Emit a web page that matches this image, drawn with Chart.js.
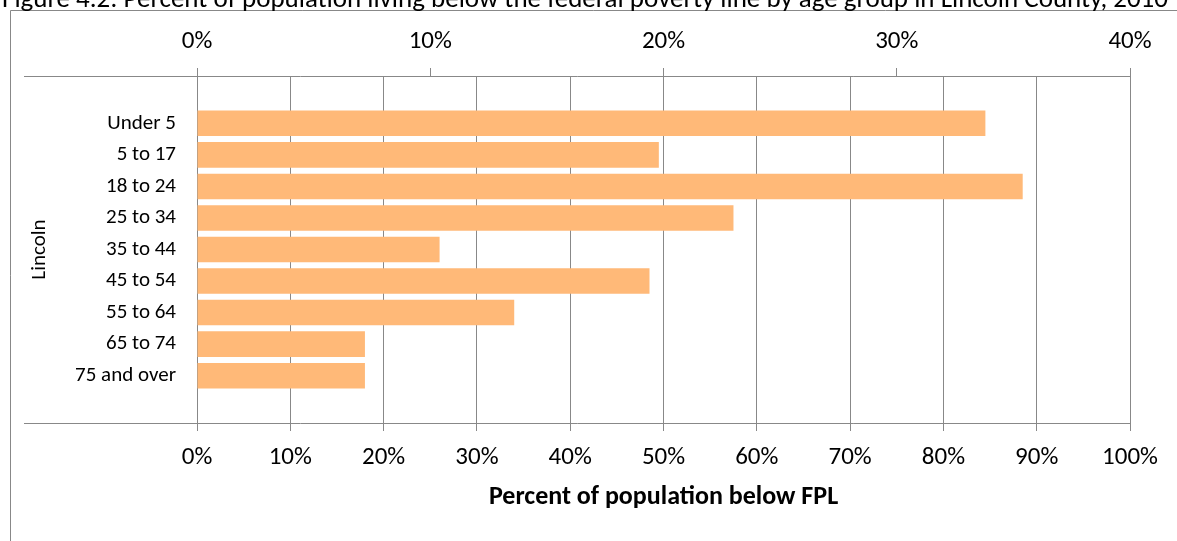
<!DOCTYPE html>
<html>
<head>
<meta charset="utf-8">
<title>Poverty by age group - Lincoln County</title>
<script src="https://cdn.jsdelivr.net/npm/chart.js@4.4.0/dist/chart.umd.min.js"></script>
<style>
    html, body { margin: 0; padding: 0; background: #fff; }
    #wrap { width: 1177px; height: 541px; position: relative; overflow: hidden; }
</style>
</head>
<body>
<div id="wrap"><canvas id="povertyChart" width="1177" height="541"></canvas></div>
<script>
// Data
const chartTitle = 'Figure 4.2: Percent of population living below the federal poverty line by age group in Lincoln County, 2010';
const groupLabel = 'Lincoln';
const categories = ['Under 5', '5 to 17', '18 to 24', '25 to 34', '35 to 44', '45 to 54', '55 to 64', '65 to 74', '75 and over'];
const percentBelowFPL = [33.8, 19.8, 35.4, 23.0, 10.4, 19.4, 13.6, 7.2, 7.2];
const topTicks = [0, 10, 20, 30, 40];
const bottomTicks = [0, 10, 20, 30, 40, 50, 60, 70, 80, 90, 100];
const axisTitle = 'Percent of population below FPL';

const FONT = 'Carlito, Calibri, Lato, sans-serif';
const GRID = '#888888';
const BAR = '#FFB978';

// Excel leaves an empty slot above and below the group
const axisLabels = [''].concat(categories, ['']);
const barValues = [null].concat(percentBelowFPL, [null]);

/**
 * Frame, clipped title, group label and category axis lines
 */
const frameDecor = {
    id: 'frameDecor',
    beforeDraw(chart) {
        const ctx = chart.ctx;
        ctx.save();
        ctx.fillStyle = '#fff';
        ctx.fillRect(0, 0, chart.width, chart.height);

        // outer border
        ctx.strokeStyle = GRID;
        ctx.lineWidth = 1;
        ctx.beginPath();
        ctx.moveTo(10.5, chart.height);
        ctx.lineTo(10.5, 10.5);
        ctx.lineTo(chart.width, 10.5);
        ctx.stroke();

        // title, top half cut off by the page edge
        ctx.fillStyle = '#000';
        ctx.font = '27px ' + FONT;
        ctx.textAlign = 'left';
        ctx.textBaseline = 'alphabetic';
        ctx.fillText(chartTitle, 2, 7);
        ctx.restore();
    },
    afterDraw(chart) {
        const { ctx, chartArea } = chart;
        ctx.save();
        ctx.strokeStyle = GRID;
        ctx.lineWidth = 1;
        [chartArea.top, chartArea.bottom].forEach(y => {
            const py = Math.round(y) + 0.5;
            ctx.beginPath();
            ctx.moveTo(24, py);
            ctx.lineTo(chartArea.right + 0.5, py);
            ctx.stroke();
        });

        // outer category label
        ctx.translate(40, (chartArea.top + chartArea.bottom) / 2);
        ctx.rotate(-Math.PI / 2);
        ctx.fillStyle = '#000';
        ctx.font = '21px ' + FONT;
        ctx.textAlign = 'center';
        ctx.textBaseline = 'middle';
        ctx.fillText(groupLabel, 0, 0);
        ctx.restore();
    }
};

document.addEventListener('DOMContentLoaded', function() {
    const ctx = document.getElementById('povertyChart').getContext('2d');

    new Chart(ctx, {
        type: 'bar',
        data: {
            labels: axisLabels,
            datasets: [{
                label: 'Percent below FPL',
                data: barValues,
                backgroundColor: BAR,
                borderWidth: 0,
                barPercentage: 0.81,
                categoryPercentage: 1,
                xAxisID: 'x2',
                yAxisID: 'y'
            }]
        },
        options: {
            indexAxis: 'y',
            responsive: false,
            animation: false,
            devicePixelRatio: 1,
            layout: { padding: { left: 0, right: 47, top: 0, bottom: 0 } },
            plugins: {
                legend: { display: false },
                tooltip: { enabled: false }
            },
            scales: {
                y: {
                    type: 'category',
                    position: 'left',
                    offset: true,
                    grid: { display: false, drawTicks: false },
                    border: { display: false },
                    ticks: {
                        color: '#000',
                        font: { family: FONT, size: 21 },
                        padding: 21,
                        autoSkip: false
                    },
                    afterFit: s => { s.width = 197; }
                },
                x2: {
                    type: 'linear',
                    position: 'top',
                    min: topTicks[0],
                    max: topTicks[topTicks.length - 1],
                    grid: {
                        drawOnChartArea: false,
                        drawTicks: true,
                        tickLength: 8,
                        color: GRID,
                        lineWidth: 1
                    },
                    border: { display: false },
                    ticks: {
                        stepSize: topTicks[1] - topTicks[0],
                        color: '#000',
                        font: { family: FONT, size: 25 },
                        padding: 11,
                        maxRotation: 0,
                        callback: v => v + '%'
                    },
                    afterFit: s => { s.height = 76; }
                },
                x: {
                    type: 'linear',
                    position: 'bottom',
                    min: bottomTicks[0],
                    max: bottomTicks[bottomTicks.length - 1],
                    grid: {
                        drawOnChartArea: true,
                        drawTicks: true,
                        tickLength: 8,
                        color: GRID,
                        lineWidth: 1
                    },
                    border: { display: false },
                    ticks: {
                        stepSize: bottomTicks[1] - bottomTicks[0],
                        color: '#000',
                        font: { family: FONT, size: 25 },
                        padding: 12,
                        maxRotation: 0,
                        callback: v => v + '%'
                    },
                    title: {
                        display: true,
                        text: axisTitle,
                        color: '#000',
                        font: { family: FONT, size: 26, weight: 'bold' },
                        padding: { top: 0, bottom: 28 }
                    },
                    afterFit: s => { s.height = 118; }
                }
            }
        },
        plugins: [frameDecor]
    });
});
</script>
</body>
</html>
